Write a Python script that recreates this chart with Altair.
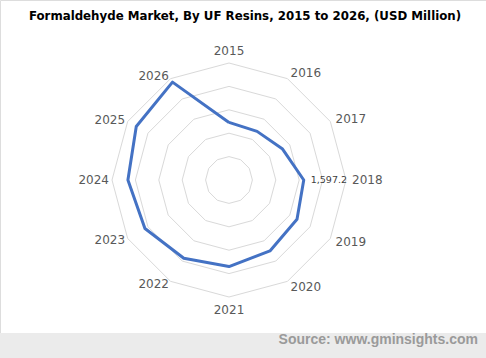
import altair as alt
import pandas as pd

# ---- data ----
years = ["2015", "2016", "2017", "2018", "2019", "2020",
         "2021", "2022", "2023", "2024", "2025", "2026"]
values = [1230, 1200, 1322, 1597.2, 1678, 1750, 1850, 1932, 2074, 2160, 2288, 2415]
ring_levels = [500, 1000, 1500, 2000, 2500]
axis_max = 2500
labelled_year = "2018"
title_text = "Formaldehyde Market, By UF Resins, 2015 to 2026, (USD Million)"
source_text = "Source: www.gminsights.com"

# ---- layout ----
W, H = 486, 358
CX, CY, R = 229, 180, 117
k = axis_max / R
xdom = [-CX * k, (W - CX) * k]
ydom = [-(H - CY) * k, CY * k]
n = len(years)

series = pd.DataFrame({
    "year": years + [years[0]],
    "value": values + [values[0]],
    "idx": list(range(n)) + [n],
})
grid = pd.DataFrame([{"level": lv, "idx": i} for lv in ring_levels for i in range(n + 1)])
cats = pd.DataFrame({"year": years, "idx": list(range(n))})

xs = alt.Scale(domain=xdom, nice=False, zero=False)
ys = alt.Scale(domain=ydom, nice=False, zero=False)
ang = f"datum.idx * 2 * PI / {n}"

X = alt.X("px:Q", scale=xs, axis=None)
Y = alt.Y("py:Q", scale=ys, axis=None)

band = alt.Chart(pd.DataFrame({"a": [0]})).mark_rect(color="#ebebeb").encode(
    x=alt.value(0), x2=alt.value(W), y=alt.value(333), y2=alt.value(H))

grid_layer = alt.Chart(grid).transform_calculate(
    px=f"datum.level * sin({ang})", py=f"datum.level * cos({ang})"
).mark_line(color="#d9d9d9", strokeWidth=1).encode(
    x=X, y=Y, detail="level:N", order=alt.Order("idx:Q"))

line_layer = alt.Chart(series).transform_calculate(
    px=f"datum.value * sin({ang})", py=f"datum.value * cos({ang})"
).mark_line(color="#4472C4", strokeWidth=3, strokeJoin="round").encode(
    x=X, y=Y, order=alt.Order("idx:Q"))

def cat_layer(filt, rpx, align, baseline="middle"):
    r = axis_max + rpx * k
    return alt.Chart(cats).transform_calculate(
        sa=f"sin({ang})", ca=f"cos({ang})"
    ).transform_filter(filt).transform_calculate(
        px=f"{r} * datum.sa", py=f"{r} * datum.ca"
    ).mark_text(font="DejaVu Sans", fontSize=12, color="#595959",
                align=align, baseline=baseline).encode(x=X, y=Y, text="year:N")

lab_center = cat_layer("abs(datum.sa) < 0.1", 12.5, "center")
lab_right = cat_layer("datum.sa >= 0.1", 6, "left")
lab_left = cat_layer("datum.sa <= -0.1", 3, "right")

data_label = alt.Chart(series[series["idx"] < n]).transform_filter(
    alt.datum.year == labelled_year
).transform_calculate(
    px=f"datum.value * sin({ang})", py=f"datum.value * cos({ang})"
).mark_text(font="DejaVu Sans", fontSize=9.5, color="#404040",
            align="left", baseline="middle", dx=7).encode(
    x=X, y=Y, text=alt.Text("value:Q", format=",.1f"))

title = alt.Chart(pd.DataFrame({"t": [title_text]})).mark_text(
    font="DejaVu Sans", fontSize=11.8, fontWeight="bold", color="#000000",
    align="center", baseline="middle").encode(
    x=alt.value(245), y=alt.value(16), text="t:N")

source = alt.Chart(pd.DataFrame({"t": [source_text]})).mark_text(
    font="Liberation Sans", fontSize=14, fontWeight="bold", color="#9a9a9a",
    align="right", baseline="alphabetic").encode(
    x=alt.value(478), y=alt.value(344), text="t:N")

chart = alt.layer(
    band, grid_layer, line_layer, lab_center, lab_right, lab_left,
    data_label, title, source
).properties(
    width=W, height=H, padding=0,
    autosize=alt.AutoSizeParams(type="none")
).configure_view(stroke=None).configure(background="white")

chart.save("out.html", embed_options={"renderer": "svg", "actions": False})
